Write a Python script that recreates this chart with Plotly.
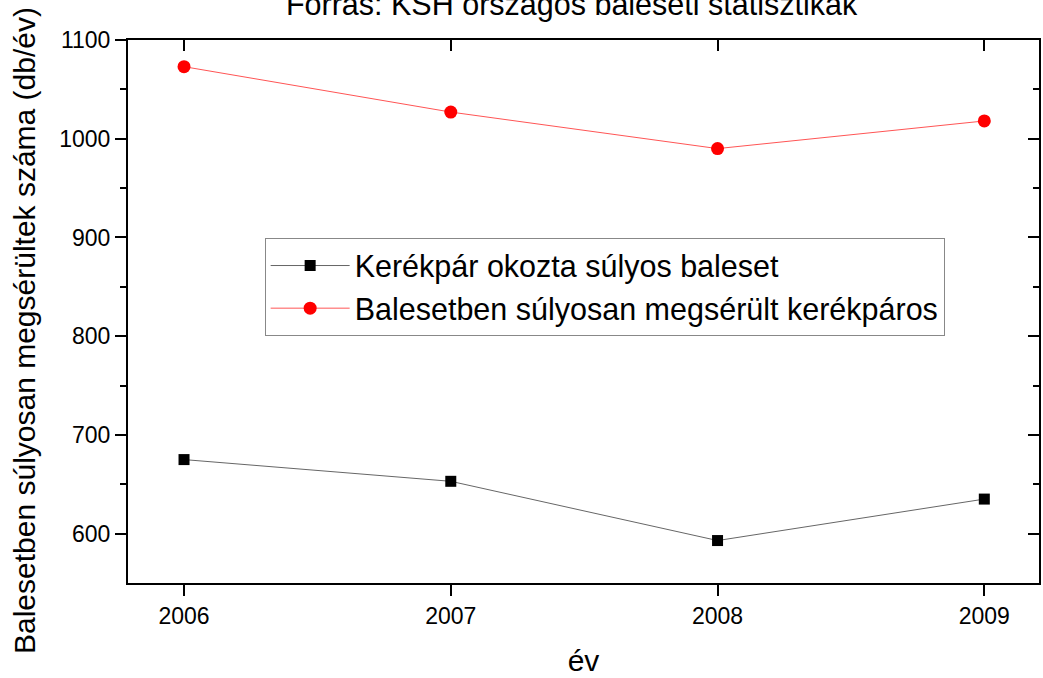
import plotly.graph_objects as go

years = [2006, 2007, 2008, 2009]
kerekpar_okozta = [675, 653, 593, 635]
megserult_kerekparos = [1073, 1027, 990, 1018]
series_names = ["Kerékpár okozta súlyos baleset", "Balesetben súlyosan megsérült kerékpáros"]
title_text = "Forrás: KSH országos baleseti statisztikák"
x_title = "év"
y_title = "Balesetben súlyosan megsérültek száma (db/év)"

FONT = "Liberation Sans, Arial, sans-serif"

fig = go.Figure()
fig.add_trace(go.Scatter(
    x=years, y=kerekpar_okozta, name=series_names[0], mode="lines+markers",
    line=dict(color="#666666", width=1),
    marker=dict(symbol="square", size=11, color="black"),
))
fig.add_trace(go.Scatter(
    x=years, y=megserult_kerekparos, name=series_names[1], mode="lines+markers",
    line=dict(color="#ff5555", width=1),
    marker=dict(symbol="circle", size=13, color="red"),
))

xr = [2005.79, 2009.205]
yr = [550, 1100]

fig.update_layout(
    width=1043, height=678,
    margin=dict(l=128, r=4, t=40, b=95, autoexpand=False),
    paper_bgcolor="white", plot_bgcolor="white",
    font=dict(family=FONT, color="black", size=23),
    title=dict(text=title_text, x=0.548, xanchor="center", y=0.993, yanchor="middle",
               yref="container", font=dict(size=30.5, family=FONT)),
    showlegend=True,
    legend=dict(x=0.150, y=0.635, xanchor="left", yanchor="top",
                bordercolor="#888888", borderwidth=1, bgcolor="white",
                font=dict(size=30.5, family=FONT), tracegroupgap=0,
                itemwidth=79),
    xaxis=dict(range=xr, tickvals=years, ticktext=[str(y) for y in years], automargin=False,
               showgrid=False, zeroline=False, showline=True, linecolor="black", linewidth=2,
               ticks="outside", ticklen=11, tickwidth=2, tickcolor="black",
               tickfont=dict(size=23), title=dict(text=x_title, font=dict(size=30), standoff=22)),
    yaxis=dict(range=yr, tickvals=[600, 700, 800, 900, 1000, 1100], automargin=False,
               showgrid=False, zeroline=False, showline=True, linecolor="black", linewidth=2,
               ticks="outside", ticklen=11, tickwidth=2, tickcolor="black",
               minor=dict(tickvals=[650, 750, 850, 950, 1050], ticks="outside", ticklen=6,
                          tickwidth=2, tickcolor="black", showgrid=False),
               tickfont=dict(size=23)),
    xaxis2=dict(range=xr, overlaying="x", side="top", tickvals=years, showticklabels=False,
                automargin=False,
                showgrid=False, zeroline=False, showline=True, linecolor="black", linewidth=2,
                ticks="inside", ticklen=11, tickwidth=2, tickcolor="black"),
    yaxis2=dict(range=yr, overlaying="y", side="right", tickvals=[600, 700, 800, 900, 1000, 1100],
                automargin=False,
                showticklabels=False, showgrid=False, zeroline=False, showline=True,
                linecolor="black", linewidth=2,
                ticks="inside", ticklen=11, tickwidth=2, tickcolor="black",
                minor=dict(tickvals=[650, 750, 850, 950, 1050], ticks="inside", ticklen=6,
                           tickwidth=2, tickcolor="black", showgrid=False)),
)
fig.add_annotation(text=y_title, xref="paper", yref="paper",
                   x=(24 - 128) / 911, y=(583 - 331) / 543, xanchor="center", yanchor="middle",
                   textangle=-90, showarrow=False, font=dict(size=30, family=FONT, color="black"))
fig.add_trace(go.Scatter(x=[xr[0]], y=[yr[0]], xaxis="x2", yaxis="y2", mode="markers",
                         marker=dict(opacity=0), showlegend=False, hoverinfo="skip"))

fig.write_html("out.html", config={"displayModeBar": False},
               post_script="document.body.style.margin='0';document.body.style.overflow='hidden';")
